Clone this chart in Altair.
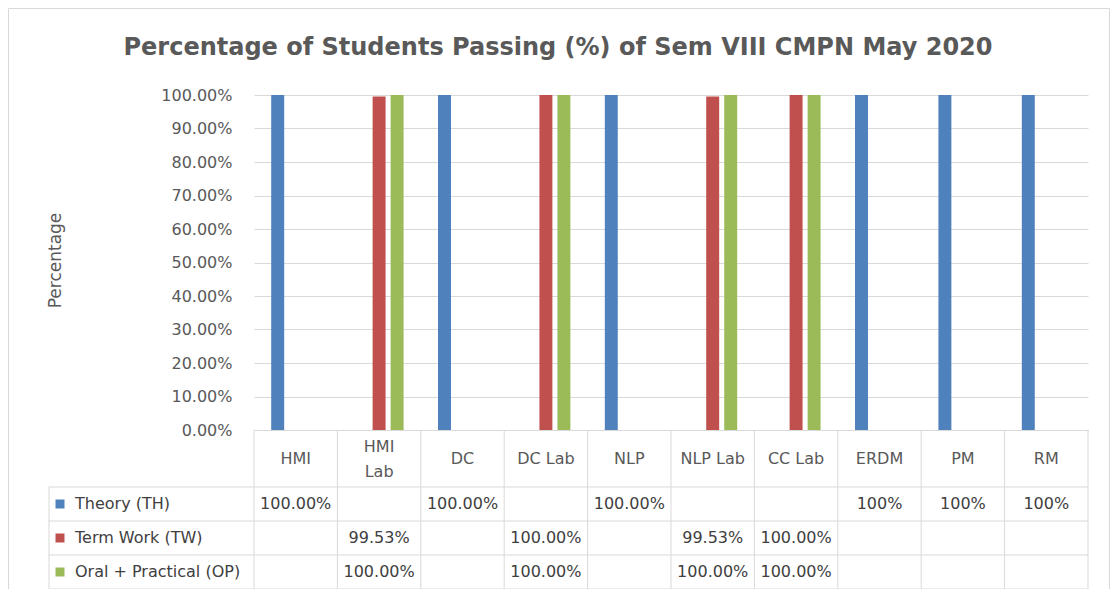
import altair as alt
import pandas as pd

# ---------------- data ----------------
categories = ["HMI", "HMI Lab", "DC", "DC Lab", "NLP", "NLP Lab", "CC Lab", "ERDM", "PM", "RM"]
header_text = ["HMI", "HMI\nLab", "DC", "DC Lab", "NLP", "NLP Lab", "CC Lab", "ERDM", "PM", "RM"]
series = ["Theory (TH)", "Term Work (TW)", "Oral + Practical (OP)"]
series_colors = ["#4F81BD", "#C0504D", "#9BBB59"]

theory = [1.0, None, 1.0, None, 1.0, None, None, 1.0, 1.0, 1.0]
term_work = [None, 0.9953, None, 1.0, None, 0.9953, 1.0, None, None, None]
oral_practical = [None, 1.0, None, 1.0, None, 1.0, 1.0, None, None, None]

theory_text = ["100.00%", "", "100.00%", "", "100.00%", "", "", "100%", "100%", "100%"]
term_work_text = ["", "99.53%", "", "100.00%", "", "99.53%", "100.00%", "", "", ""]
oral_practical_text = ["", "100.00%", "", "100.00%", "", "100.00%", "100.00%", "", "", ""]

y_ticks = [0.0, 0.1, 0.2, 0.3, 0.4, 0.5, 0.6, 0.7, 0.8, 0.9, 1.0]
title_text = "Percentage of Students Passing (%) of Sem VIII CMPN May 2020"

# ---------------- layout ----------------
W, H = 834, 335
HEADER_H = 57
ROW_H = 34
LINE_H = 25
TABLE_TOP = H
TABLE_BOTTOM = H + HEADER_H + 3 * ROW_H
TABLE_LEFT = -205
GRID = "#d9d9d9"
FONT = "DejaVu Sans"

rows = []
for s, vals, txts in zip(series, [theory, term_work, oral_practical],
                         [theory_text, term_work_text, oral_practical_text]):
    for c, v, t in zip(categories, vals, txts):
        rows.append({"category": c, "series": s, "value": v, "label": t})
df = pd.DataFrame(rows)
bars_df = df.dropna(subset=["value"])
cells_df = df[df["label"] != ""]
legend_df = pd.DataFrame({"series": series})
cat_df = pd.DataFrame({"category": categories, "header": header_text})
one = pd.DataFrame({"k": [0]})

x_scale = alt.Scale(domain=categories, paddingInner=0, paddingOuter=0)
color_scale = alt.Scale(domain=series, range=series_colors)
row_scale = alt.Scale(domain=series, range=[H + HEADER_H + ROW_H / 2, H + HEADER_H + ROW_H * 2.5], padding=0)

frame = alt.Chart(one).mark_rect(fillOpacity=0, stroke=GRID, strokeWidth=1).encode(
    x=alt.value(-245.5), x2=alt.value(855.5), y=alt.value(-86.5), y2=alt.value(620)
)

bars = alt.Chart(bars_df).mark_bar().encode(
    x=alt.X("category:N", sort=categories, scale=x_scale,
            axis=alt.Axis(title=None, labels=False, ticks=False, grid=False,
                          domainColor=GRID, domainWidth=1)),
    xOffset=alt.XOffset("series:N", sort=series,
                        scale=alt.Scale(domain=series, paddingInner=0.28, paddingOuter=0.956)),
    y=alt.Y("value:Q", scale=alt.Scale(domain=[0, 1], nice=False),
            axis=alt.Axis(values=y_ticks, format=".2%", title="Percentage",
                          domain=False, ticks=False, tickSize=0, labelPadding=22,
                          labelFontSize=16, labelColor="#595959", gridColor=GRID,
                          titleFontSize=17, titleFontWeight="normal", titleColor="#595959",
                          titleX=-199, titleY=165, titleAlign="center", titleBaseline="middle")),
    color=alt.Color("series:N", scale=color_scale, legend=None),
    tooltip=["category:N", "series:N", alt.Tooltip("value:Q", format=".2%")],
)

vlines = alt.Chart(cat_df).mark_rule(color=GRID).encode(
    x=alt.X("category:N", sort=categories, bandPosition=0),
    y=alt.value(TABLE_TOP), y2=alt.value(TABLE_BOTTOM),
)
right_line = alt.Chart(one).mark_rule(color=GRID).encode(
    x=alt.value(W), y=alt.value(TABLE_TOP), y2=alt.value(TABLE_BOTTOM)
)
left_line = alt.Chart(one).mark_rule(color=GRID).encode(
    x=alt.value(TABLE_LEFT), y=alt.value(TABLE_TOP + HEADER_H), y2=alt.value(TABLE_BOTTOM)
)
hlines = [
    alt.Chart(one).mark_rule(color=GRID).encode(
        x=alt.value(TABLE_LEFT), x2=alt.value(W), y=alt.value(TABLE_TOP + HEADER_H + k * ROW_H)
    )
    for k in range(4)
]

header = alt.Chart(cat_df).transform_calculate(
    shift=f"-(length(split(datum.header, '\\n')) - 1) * {LINE_H / 2}"
).mark_text(
    font=FONT, fontSize=16, color="#595959", lineBreak="\n", lineHeight=LINE_H, baseline="middle"
).encode(
    x=alt.X("category:N", sort=categories),
    y=alt.value(TABLE_TOP + 29),
    yOffset=alt.YOffset("shift:Q", scale=None),
    text="header:N",
)

cells = alt.Chart(cells_df).mark_text(font=FONT, fontSize=16, color="#404040", baseline="middle").encode(
    x=alt.X("category:N", sort=categories),
    y=alt.Y("series:N", scale=row_scale, axis=None),
    text="label:N",
)

row_labels = alt.Chart(legend_df).mark_text(
    align="left", baseline="middle", font=FONT, fontSize=16, color="#404040"
).encode(
    x=alt.value(-179),
    y=alt.Y("series:N", scale=row_scale, axis=None),
    text="series:N",
)

swatches = alt.Chart(legend_df).mark_square(size=81, opacity=1).encode(
    x=alt.value(-194),
    y=alt.Y("series:N", scale=row_scale, axis=None),
    color=alt.Color("series:N", scale=color_scale, legend=None),
)

chart = alt.layer(
    frame, bars, vlines, right_line, left_line, *hlines, header, cells, row_labels, swatches
).resolve_scale(
    y="independent"
).properties(
    width=W,
    height=H,
    autosize=alt.AutoSizeParams(type="none"),
    padding={"left": 246, "top": 87, "right": 22, "bottom": 159},
    title=alt.TitleParams(
        text=title_text, font=FONT, fontSize=24, fontWeight="bold", color="#595959",
        anchor="middle", frame="group", dx=-113, offset=-71, baseline="alphabetic",
    ),
).configure_view(stroke=None).configure_axis(labelFont=FONT, titleFont=FONT)

chart.save("out.html", embed_options={"renderer": "svg", "actions": False})
